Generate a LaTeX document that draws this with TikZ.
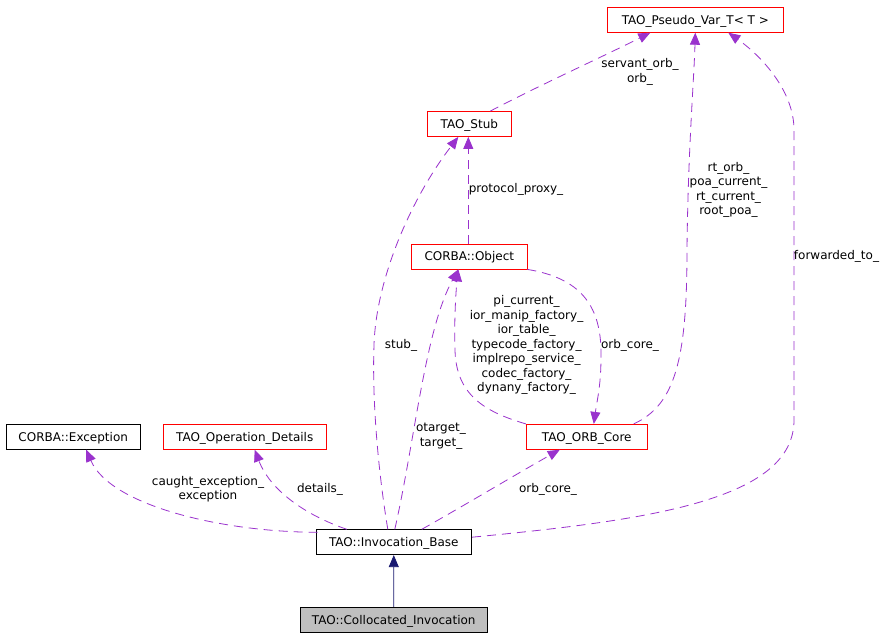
\documentclass[tikz,border=0pt]{standalone}
\usepackage{fontspec}
\setmainfont{DejaVu Sans}
\usetikzlibrary{arrows.meta}
\definecolor{usecol}{HTML}{9A32CD}
\definecolor{inhcol}{HTML}{191970}
\definecolor{grayfill}{HTML}{BFBFBF}
\begin{document}
\begin{tikzpicture}[x=1pt,y=-1pt,
  cls/.style={draw, inner sep=0pt, minimum height=25pt, text height=8.75pt, text depth=0pt,
    font=\fontsize{12}{14}\selectfont, line width=0.8pt},
  redcls/.style={cls, draw=red},
  blkcls/.style={cls, draw=black},
  usage/.style={draw=usecol, line width=0.8pt, dash pattern=on 9pt off 6pt,
    -{Triangle[length=12pt,width=10pt,fill=usecol]}},
  inherit/.style={draw=inhcol, line width=0.8pt,
    -{Triangle[length=12pt,width=10pt,fill=inhcol]}},
  lbl/.style={font=\fontsize{12}{14.5}\selectfont, align=center, inner sep=0pt}
]
\fill[white] (0,0) rectangle (887,637);
\useasboundingbox (0,0) rectangle (887,637);

% classes
\node[redcls, minimum width=176pt] (pv) at (695.3,19.8) {TAO\_Pseudo\_Var\_T< T >};
\node[redcls, minimum width=84pt] (stub) at (469.3,124) {TAO\_Stub};
\node[redcls, minimum width=115.3pt] (obj) at (469.3,256.5) {CORBA::Object};
\node[redcls, minimum width=121pt] (orb) at (586.8,436.8) {TAO\_ORB\_Core};
\node[blkcls, minimum width=134.3pt] (exc) at (73.2,436.8) {CORBA::Exception};
\node[redcls, minimum width=163.3pt] (det) at (244.7,436.8) {TAO\_Operation\_Details};
\node[blkcls, minimum width=155.7pt] (inv) at (393.8,542.2) {TAO::Invocation\_Base};
\node[blkcls, fill=grayfill, minimum width=187.3pt] (col) at (393.7,619.8) {TAO::Collocated\_Invocation};

% connectors
\draw[inherit] (col.north) -- (inv.south);

\draw[usage] ([xshift=2pt,yshift=-3pt]inv.north west) .. controls (220,532) and (110,505) .. ([xshift=13pt]exc.south);
\draw[usage] ([xshift=-47pt]inv.north) .. controls (305,515) and (270,490) .. ([xshift=10pt]det.south);
\draw[usage] ([xshift=-6pt]inv.north) .. controls (378,470) and (372,400) .. (374,345)
   .. controls (376,280) and (410,200) .. ([xshift=-11pt]stub.south);
\draw[usage] ([xshift=1pt]inv.north) .. controls (415,440) and (425,330) .. ([xshift=-11pt]obj.south);
\draw[usage] ([xshift=28pt]inv.north) .. controls (465,505) and (520,472) .. ([xshift=-27pt]orb.south);
\draw[usage] ([yshift=5pt]inv.east) .. controls (650,520) and (794,500) .. (794,420) -- (794,130)
   .. controls (794,90) and (760,55) .. ([xshift=33pt]pv.south);
\draw[usage] ([xshift=21pt]stub.north) .. controls (540,85) and (600,58) .. ([xshift=-45pt]pv.south);
\draw[usage] ([xshift=-1pt]obj.north) -- ([xshift=-1pt]stub.south);
\draw[usage] (obj.south east) .. controls (580,278) and (600,305) .. (601,350)
   .. controls (601.5,385) and (597,400) .. ([xshift=7pt]orb.north);
\draw[usage] (orb.north west) .. controls (485,412) and (456,395) .. (455,350)
   .. controls (454,320) and (456,290) .. ([xshift=-11pt]obj.south);
\draw[usage] ([xshift=-14pt]orb.north east) .. controls (675,405) and (687,360) .. (687,250)
   .. controls (688,150) and (694,80) .. (pv.south);

% labels
\node[lbl] (l1) at (208,489) {caught\_exception\_\\exception};
\node[lbl] (l2) at (320,489) {details\_};
\node[lbl] (l3) at (401,345) {stub\_};
\node[lbl] (l4) at (441,436) {otarget\_\\target\_};
\node[lbl] (l5) at (548,489) {orb\_core\_};
\node[lbl] (l6) at (836.5,256) {forwarded\_to\_};
\node[lbl] (l7) at (640,72) {servant\_orb\_\\orb\_};
\node[lbl] (l8) at (516,189) {protocol\_proxy\_};
\node[lbl] (l9) at (630,345) {orb\_core\_};
\node[lbl] (l10) at (526.5,345) {pi\_current\_\\ior\_manip\_factory\_\\ior\_table\_\\typecode\_factory\_\\implrepo\_service\_\\codec\_factory\_\\dynany\_factory\_};
\node[lbl] (l11) at (728.5,190) {rt\_orb\_\\poa\_current\_\\rt\_current\_\\root\_poa\_};
\end{tikzpicture}
\end{document}
